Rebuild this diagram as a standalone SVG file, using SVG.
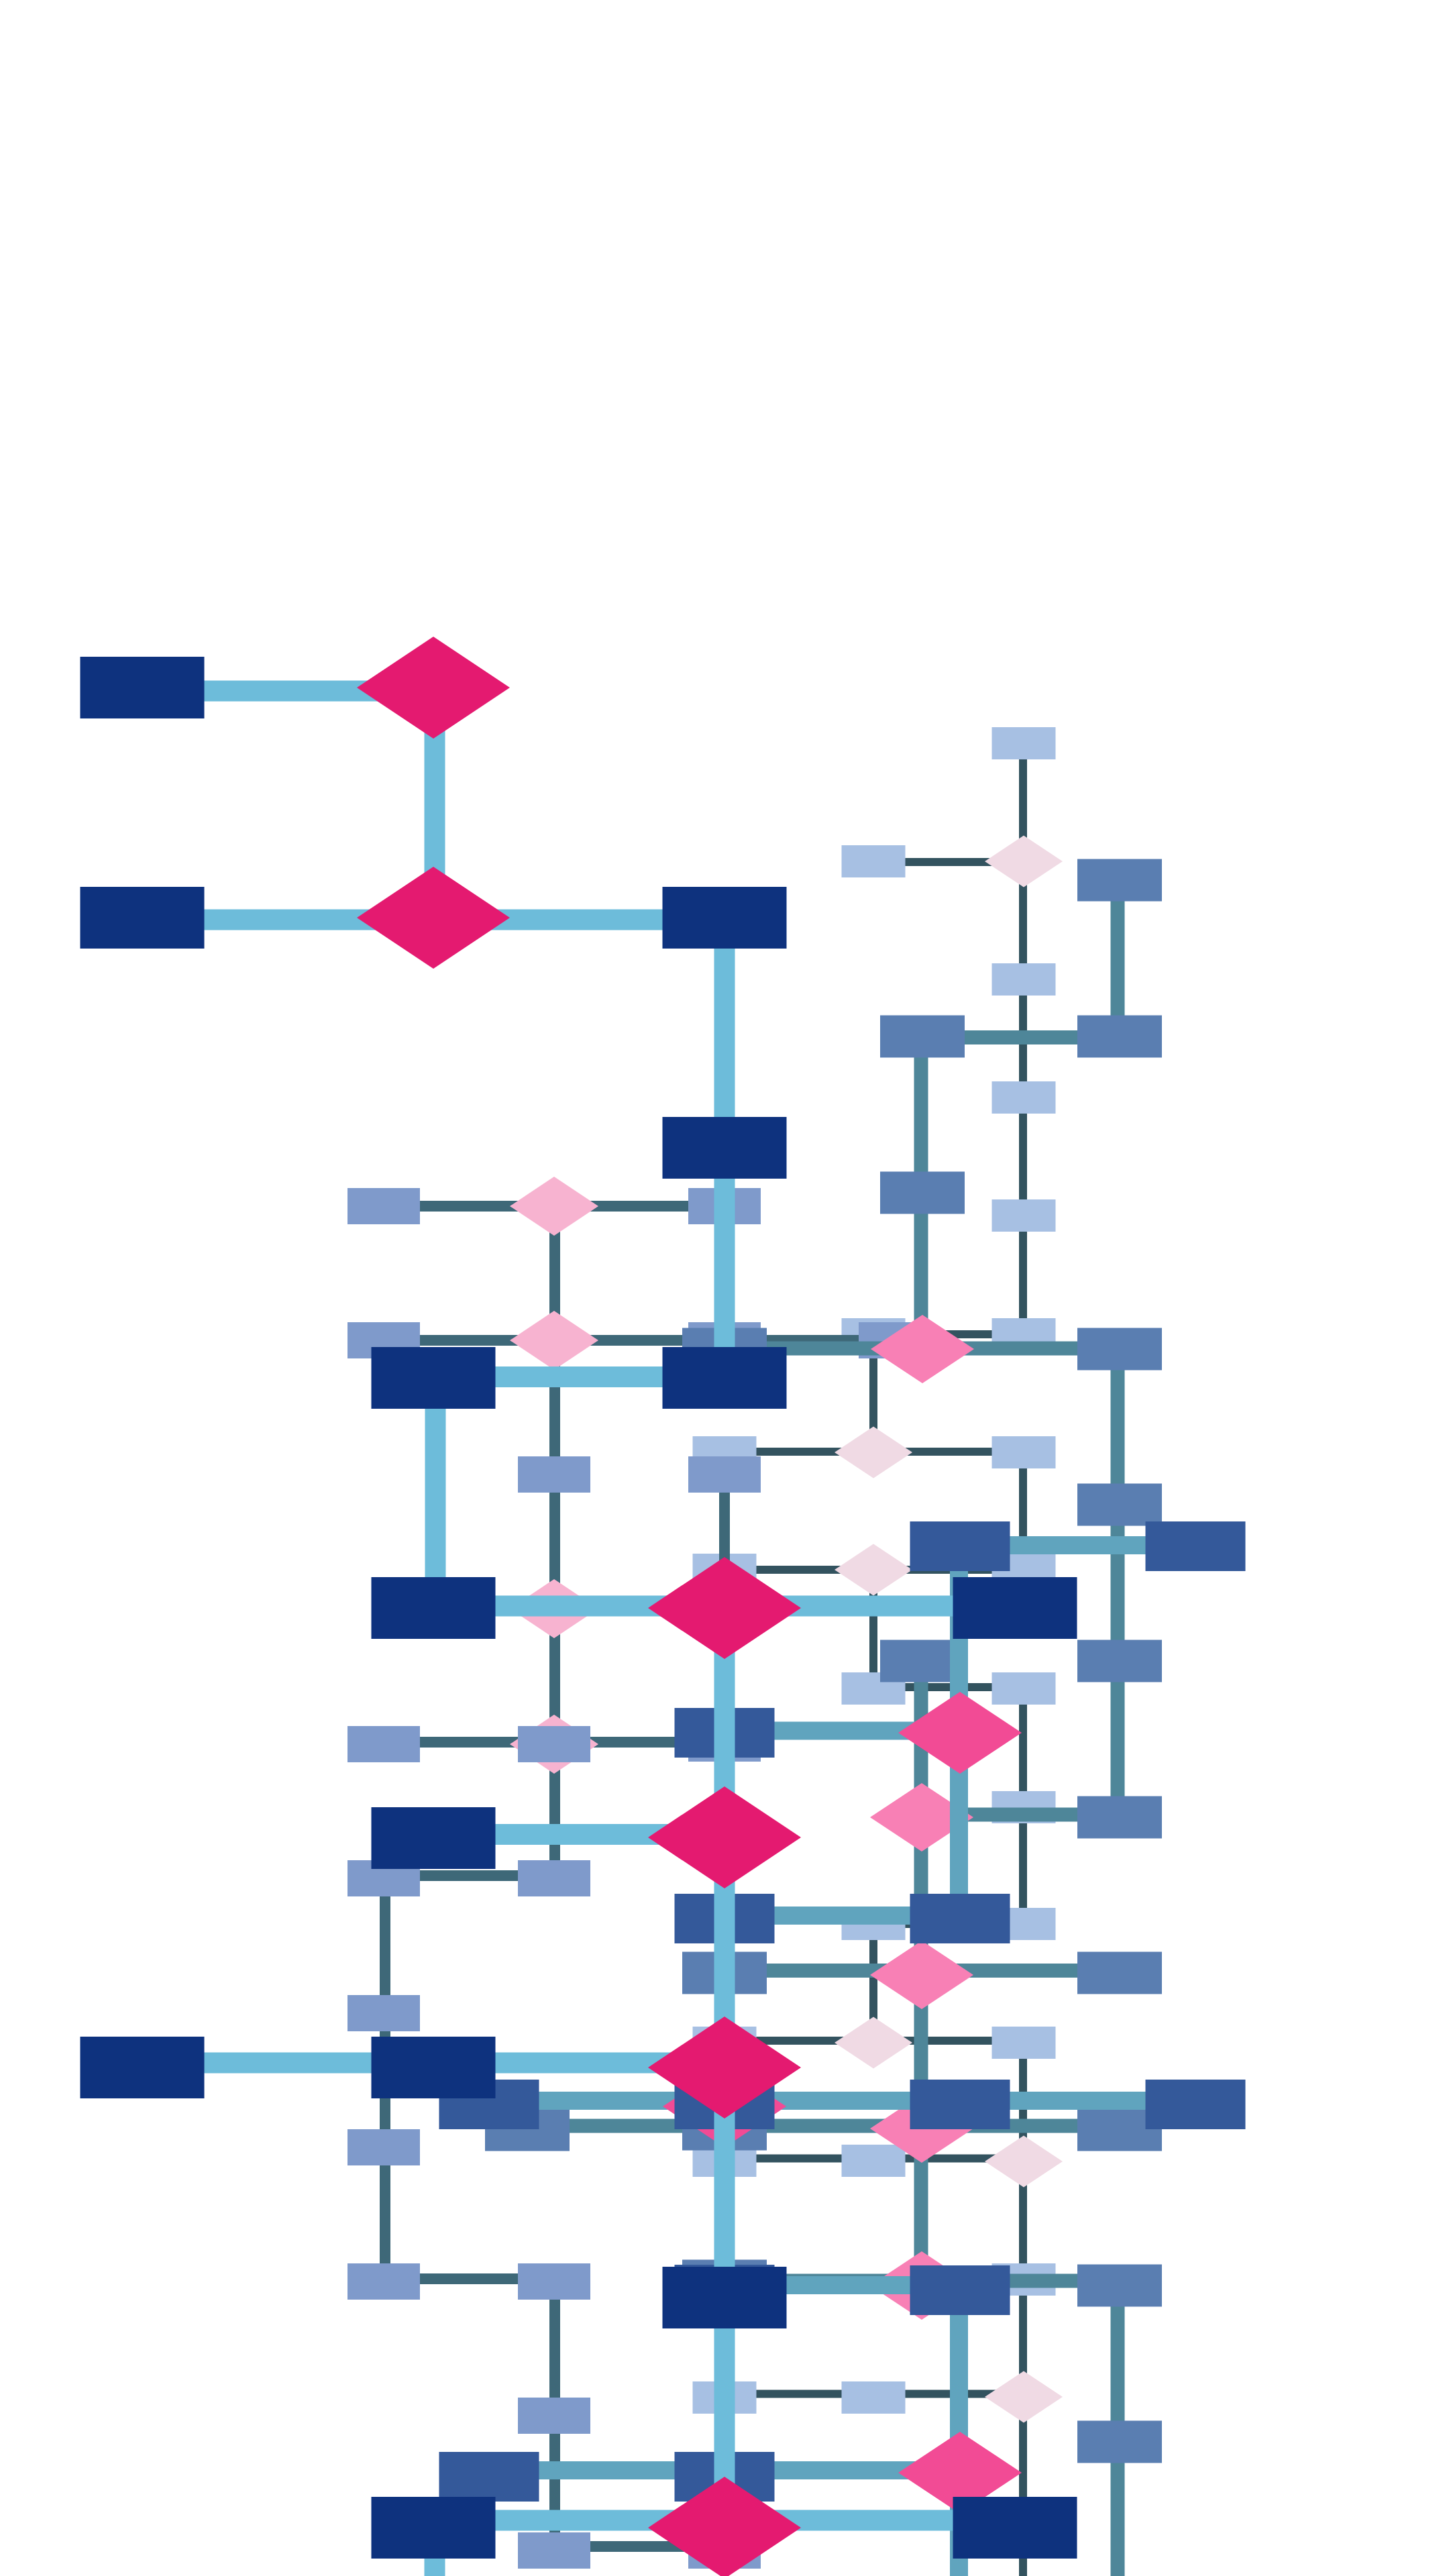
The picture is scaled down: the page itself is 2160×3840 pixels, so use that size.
<svg xmlns="http://www.w3.org/2000/svg" xmlns:xlink="http://www.w3.org/1999/xlink" width="2160" height="3840" viewBox="0 0 2160 3840">
<style>
.c1{stroke:#6DBCDA;stroke-width:31;fill:none}
.c2{stroke:#60A4BE;stroke-width:27;fill:none}
.c3{stroke:#4E8699;stroke-width:21;fill:none}
.c4{stroke:#3E6878;stroke-width:16;fill:none}
.c5{stroke:#33535F;stroke-width:12;fill:none}
.b1{fill:#0E327E}.d1{fill:#E41A70}
.b2{fill:#34599A}.d2{fill:#F24B95}
.b3{fill:#5A7EB1}.d3{fill:#F880B5}
.b4{fill:#7F9ACB}.d4{fill:#F7B3D0}
.b5{fill:#A7C0E3}.d5{fill:#F0DAE4}
</style>
<defs>
<rect id="box1" x="-92.5" y="-46" width="185" height="92"/>
<polygon id="dia1" points="-114,0 0,-76 114,0 0,76"/>
<rect id="box2" x="-74.5" y="-37" width="149" height="74"/>
<polygon id="dia2" points="-92,0 0,-61 92,0 0,61"/>
<rect id="box3" x="-63" y="-31.5" width="126" height="63"/>
<polygon id="dia3" points="-77,0 0,-51 77,0 0,51"/>
<rect id="box4" x="-54" y="-27" width="108" height="54"/>
<polygon id="dia4" points="-66,0 0,-44 66,0 0,44"/>
<rect id="box5" x="-47.5" y="-24" width="95" height="48"/>
<polygon id="dia5" points="-58,0 0,-38.5 58,0 0,38.5"/>
</defs>
<rect width="2160" height="3840" fill="#FFFFFF"/>

<g id="connectors-l5" class="c5">
<path d="M1525,1108 V1989"/>
<path d="M1302,1285 H1525"/>
<path d="M1302,1989 H1525"/>
<path d="M1302,1989 V2165"/>
<path d="M1080,2164 H1525"/>
<path d="M1525,2165 V2340"/>
<path d="M1080,2340 H1525"/>
<path d="M1302,2340 V2517"/>
<path d="M1302,2515 H1525"/>
<path d="M1525,2517 V2868"/>
<path d="M1302,2868 H1525"/>
<path d="M1302,2868 V3045"/>
<path d="M1080,3042 H1525"/>
<path d="M1525,3045 V3840"/>
<path d="M1080,3217.5 H1525"/>
<path d="M1080,3568.5 H1525"/>
</g>
<g id="nodes-l5">
<g id="v1"><use href="#box5" class="b5" x="1526" y="1108"/></g>
<g id="v2"><use href="#box5" class="b5" x="1302" y="1284"/></g>
<g id="w1"><use href="#dia5" class="d5" x="1526" y="1284"/></g>
<g id="v3"><use href="#box5" class="b5" x="1526" y="1460"/></g>
<g id="v4"><use href="#box5" class="b5" x="1526" y="1636"/></g>
<g id="v5"><use href="#box5" class="b5" x="1526" y="1812"/></g>
<g id="v6"><use href="#box5" class="b5" x="1302" y="1989"/></g>
<g id="v7"><use href="#box5" class="b5" x="1526" y="1989"/></g>
<g id="v8"><use href="#box5" class="b5" x="1080" y="2165"/></g>
<g id="w2"><use href="#dia5" class="d5" x="1302" y="2165"/></g>
<g id="v9"><use href="#box5" class="b5" x="1526" y="2165"/></g>
<g id="v10"><use href="#box5" class="b5" x="1080" y="2340"/></g>
<g id="w3"><use href="#dia5" class="d5" x="1302" y="2340"/></g>
<g id="v11"><use href="#box5" class="b5" x="1526" y="2340"/></g>
<g id="v12"><use href="#box5" class="b5" x="1302" y="2517"/></g>
<g id="v13"><use href="#box5" class="b5" x="1526" y="2517"/></g>
<g id="v14"><use href="#box5" class="b5" x="1526" y="2694"/></g>
<g id="v15"><use href="#box5" class="b5" x="1302" y="2868"/></g>
<g id="v16"><use href="#box5" class="b5" x="1526" y="2868"/></g>
<g id="v17"><use href="#box5" class="b5" x="1080" y="3045"/></g>
<g id="w4"><use href="#dia5" class="d5" x="1302" y="3045"/></g>
<g id="v18"><use href="#box5" class="b5" x="1526" y="3045"/></g>
<g id="v19"><use href="#box5" class="b5" x="1080" y="3221"/></g>
<g id="v20"><use href="#box5" class="b5" x="1302" y="3221"/></g>
<g id="w5"><use href="#dia5" class="d5" x="1526" y="3222"/></g>
<g id="v21"><use href="#box5" class="b5" x="1526" y="3398"/></g>
<g id="v22"><use href="#box5" class="b5" x="1080" y="3574"/></g>
<g id="v23"><use href="#box5" class="b5" x="1302" y="3574"/></g>
<g id="w6"><use href="#dia5" class="d5" x="1526" y="3573"/></g>
</g>

<g id="connectors-l4" class="c4">
<path d="M572,1798 H1080"/>
<path d="M827,1798 V1998"/>
<path d="M572,1998 H1334"/>
<path d="M827,1998 V2800"/>
<path d="M572,2597 H1080"/>
<path d="M572,2796 H826"/>
<path d="M574,2800 V3401"/>
<path d="M572,3397 H826"/>
<path d="M827,3401 V3802"/>
<path d="M826,3796 H1080"/>
<path d="M1080,2198 V2599"/>
</g>
<g id="nodes-l4">
<g id="t1"><use href="#box4" class="b4" x="572" y="1798"/></g>
<g id="u1"><use href="#dia4" class="d4" x="826" y="1798"/></g>
<g id="t2"><use href="#box4" class="b4" x="1080" y="1798"/></g>
<g id="t3"><use href="#box4" class="b4" x="572" y="1998"/></g>
<g id="u2"><use href="#dia4" class="d4" x="826" y="1998"/></g>
<g id="t4"><use href="#box4" class="b4" x="1080" y="1998"/></g>
<g id="t5"><use href="#box4" class="b4" x="1334" y="1998"/></g>
<g id="t6"><use href="#box4" class="b4" x="826" y="2198"/></g>
<g id="t7"><use href="#box4" class="b4" x="1080" y="2198"/></g>
<g id="u3"><use href="#dia4" class="d4" x="826" y="2398"/></g>
<g id="t9"><use href="#box4" class="b4" x="572" y="2600"/></g>
<g id="u4"><use href="#dia4" class="d4" x="826" y="2600"/></g>
<g id="t10"><use href="#box4" class="b4" x="826" y="2600"/></g>
<g id="t8"><use href="#box4" class="b4" x="1080" y="2599"/></g>
<g id="t11"><use href="#box4" class="b4" x="572" y="2800"/></g>
<g id="t12"><use href="#box4" class="b4" x="826" y="2800"/></g>
<g id="t13"><use href="#box4" class="b4" x="572" y="3001"/></g>
<g id="t14"><use href="#box4" class="b4" x="572" y="3201"/></g>
<g id="t15"><use href="#box4" class="b4" x="572" y="3401"/></g>
<g id="t16"><use href="#box4" class="b4" x="826" y="3401"/></g>
<g id="t17"><use href="#box4" class="b4" x="826" y="3601"/></g>
<g id="t18"><use href="#box4" class="b4" x="826" y="3802"/></g>
<g id="t19"><use href="#box4" class="b4" x="1080" y="3802"/></g>
</g>

<g id="connectors-l3" class="c3">
<path d="M1666,1312 V1545"/>
<path d="M1375,1546.5 H1669"/>
<path d="M1373,1545 V2011"/>
<path d="M1080,2010 H1669"/>
<path d="M1666,2011 V2709"/>
<path d="M1374,2705 H1669"/>
<path d="M1373,2476 V3407"/>
<path d="M1080,2937.5 H1669"/>
<path d="M786,3169 H1669"/>
<path d="M1080,3400 H1669"/>
<path d="M1666,3407 V3840"/>
</g>
<g id="nodes-l3">
<g id="r1"><use href="#box3" class="b3" x="1669" y="1312"/></g>
<g id="r2"><use href="#box3" class="b3" x="1375" y="1545"/></g>
<g id="r3"><use href="#box3" class="b3" x="1669" y="1545"/></g>
<g id="r4"><use href="#box3" class="b3" x="1375" y="1778"/></g>
<g id="r5"><use href="#box3" class="b3" x="1080" y="2011"/></g>
<g id="s1"><use href="#dia3" class="d3" x="1375" y="2011"/></g>
<g id="r6"><use href="#box3" class="b3" x="1669" y="2011"/></g>
<g id="r7"><use href="#box3" class="b3" x="1669" y="2243"/></g>
<g id="r8"><use href="#box3" class="b3" x="1375" y="2476"/></g>
<g id="r9"><use href="#box3" class="b3" x="1669" y="2476"/></g>
<g id="s2"><use href="#dia3" class="d3" x="1374" y="2709"/></g>
<g id="r10"><use href="#box3" class="b3" x="1669" y="2709"/></g>
<g id="r11"><use href="#box3" class="b3" x="1080" y="2941"/></g>
<g id="s3"><use href="#dia3" class="d3" x="1374" y="2944"/></g>
<g id="r12"><use href="#box3" class="b3" x="1669" y="2941"/></g>
<g id="r13"><use href="#box3" class="b3" x="786" y="3175"/></g>
<g id="r14"><use href="#box3" class="b3" x="1080" y="3174"/></g>
<g id="s4"><use href="#dia3" class="d3" x="1374" y="3173"/></g>
<g id="r15"><use href="#box3" class="b3" x="1669" y="3175"/></g>
<g id="r18"><use href="#box3" class="b3" x="1080" y="3400"/></g>
<g id="s5"><use href="#dia3" class="d3" x="1374" y="3407"/></g>
<g id="r16"><use href="#box3" class="b3" x="1669" y="3407"/></g>
<g id="r17"><use href="#box3" class="b3" x="1669" y="3640"/></g>
</g>

<g id="connectors-l2" class="c2">
<path d="M1431,2303.5 H1782"/>
<path d="M1429.5,2305 V2860"/>
<path d="M1080,2580 H1431"/>
<path d="M1080,2855.5 H1431"/>
<path d="M729,3131.5 H1782"/>
<path d="M1080,3406.5 H1431"/>
<path d="M1429.5,3414 V3840"/>
<path d="M729,3682.5 H1431"/>
</g>
<g id="nodes-l2">
<g id="p1"><use href="#box2" class="b2" x="1431" y="2305"/></g>
<g id="p2"><use href="#box2" class="b2" x="1782" y="2305"/></g>
<g id="p3"><use href="#box2" class="b2" x="1080" y="2583"/></g>
<g id="q1"><use href="#dia2" class="d2" x="1431" y="2583"/></g>
<g id="p4"><use href="#box2" class="b2" x="1080" y="2860"/></g>
<g id="p5"><use href="#box2" class="b2" x="1431" y="2860"/></g>
<g id="p6"><use href="#box2" class="b2" x="729" y="3137"/></g>
<g id="q2"><use href="#dia2" class="d2" x="1080" y="3140"/></g>
<g id="p7"><use href="#box2" class="b2" x="1080" y="3137"/></g>
<g id="p8"><use href="#box2" class="b2" x="1431" y="3137"/></g>
<g id="p9"><use href="#box2" class="b2" x="1782" y="3137"/></g>
<g id="p13"><use href="#box2" class="b2" x="1080" y="3413"/></g>
<g id="p10"><use href="#box2" class="b2" x="1431" y="3414"/></g>
<g id="q3"><use href="#dia2" class="d2" x="1431" y="3686"/></g>
<g id="p11"><use href="#box2" class="b2" x="729" y="3692"/></g>
<g id="p12"><use href="#box2" class="b2" x="1080" y="3692"/></g>
</g>

<g id="connectors-l1" class="c1">
<path d="M212,1030 H646"/>
<path d="M648,1025 V1368"/>
<path d="M212,1371 H1080"/>
<path d="M1080,1368 V2054"/>
<path d="M646,2052.5 H1080"/>
<path d="M649,2054 V2397"/>
<path d="M646,2394 H1513"/>
<path d="M1080,2397 V3768"/>
<path d="M646,2734.5 H1080"/>
<path d="M212,3075 H1080"/>
<path d="M646,3757 H1513"/>
<path d="M648,3768 V3840"/>
</g>
<g id="nodes-l1">
<g id="a"><use href="#box1" class="b1" x="212" y="1025"/></g>
<g id="dm1"><use href="#dia1" class="d1" x="646" y="1025"/></g>
<g id="b"><use href="#box1" class="b1" x="212" y="1368"/></g>
<g id="dm2"><use href="#dia1" class="d1" x="646" y="1368"/></g>
<g id="c"><use href="#box1" class="b1" x="1080" y="1368"/></g>
<g id="d"><use href="#box1" class="b1" x="1080" y="1711"/></g>
<g id="e"><use href="#box1" class="b1" x="1080" y="2054"/></g>
<g id="f"><use href="#box1" class="b1" x="646" y="2054"/></g>
<g id="g"><use href="#box1" class="b1" x="646" y="2397"/></g>
<g id="dm3"><use href="#dia1" class="d1" x="1080" y="2397"/></g>
<g id="h"><use href="#box1" class="b1" x="1513" y="2397"/></g>
<g id="i"><use href="#box1" class="b1" x="646" y="2740"/></g>
<g id="dm4"><use href="#dia1" class="d1" x="1080" y="2739"/></g>
<g id="j"><use href="#box1" class="b1" x="212" y="3082"/></g>
<g id="k"><use href="#box1" class="b1" x="646" y="3082"/></g>
<g id="dm5"><use href="#dia1" class="d1" x="1080" y="3082"/></g>
<g id="l"><use href="#box1" class="b1" x="1080" y="3425"/></g>
<g id="m"><use href="#box1" class="b1" x="646" y="3768"/></g>
<g id="dm6"><use href="#dia1" class="d1" x="1080" y="3768"/></g>
<g id="n"><use href="#box1" class="b1" x="1513" y="3768"/></g>
</g>
</svg>
